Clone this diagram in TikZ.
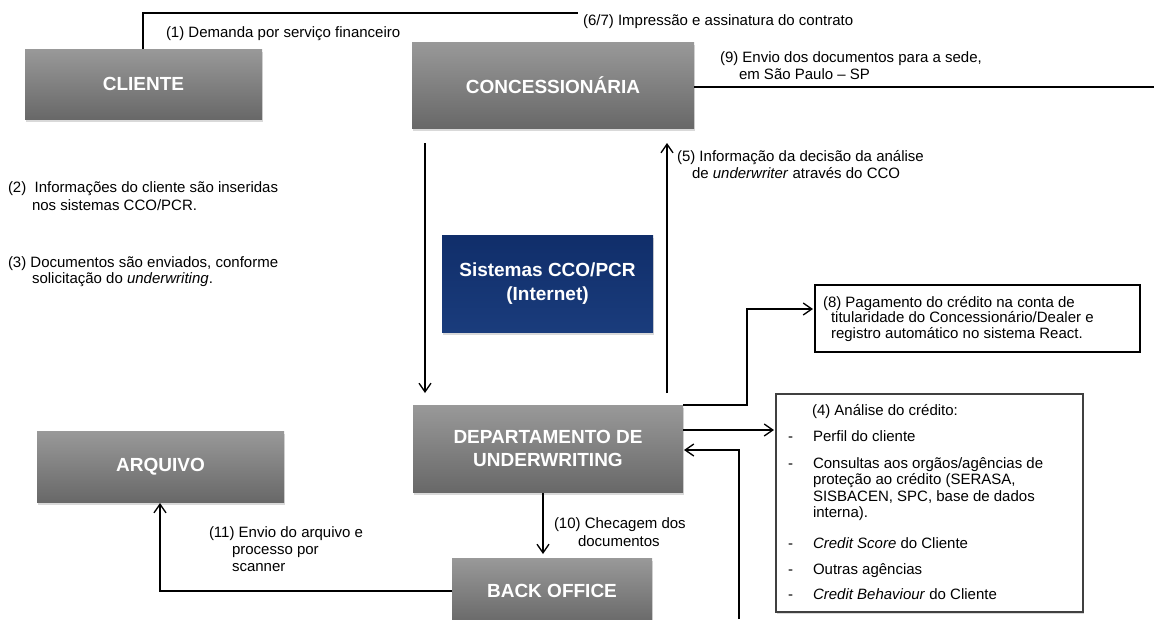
\documentclass[tikz,border=0pt]{standalone}
\usepackage{fontspec}
\setmainfont{Liberation Sans}
\usetikzlibrary{arrows.meta,shadows}
\definecolor{gtop}{RGB}{153,153,153}
\definecolor{gbot}{RGB}{104,104,104}
\definecolor{btop}{RGB}{16,46,106}
\definecolor{bbot}{RGB}{26,60,124}
\definecolor{frame4}{RGB}{64,64,64}
\begin{document}
\begin{tikzpicture}[x=0.75pt,y=-0.75pt,
  graybox/.style={rectangle,inner sep=0pt,outer sep=0pt,draw=none,
    top color=gtop,bottom color=gbot,text=white,align=center,
    font=\fontsize{14.25}{17.5}\selectfont\bfseries,
    drop shadow={shadow xshift=0.8pt,shadow yshift=-2.4pt,opacity=0.3}},
  bluebox/.style={graybox,top color=btop,bottom color=bbot},
  lbl/.style={inner sep=0pt,outer sep=0pt,anchor=base west,
    font=\fontsize{11.25}{13.5}\selectfont},
  conn/.style={line width=1pt,draw=black},
  arr/.style={conn,-{Straight Barb[length=6.5pt,width=9pt,line width=1pt]}},
]
\useasboundingbox (0,0) rectangle (1154,619);
\clip (0,0) rectangle (1154,619);

% boxes
\node[graybox,minimum width=177.75pt,minimum height=52.5pt] (cli) at (143.5,84) {CLIENTE};
\node[graybox,minimum width=211.5pt,minimum height=64.5pt] (conc) at (553,85) {CONCESSIONÁRIA};
\node[bluebox,minimum width=158.25pt,minimum height=72.75pt] (sis) at (547.5,283.5) {Sistemas CCO/PCR\\(Internet)};
\node[graybox,minimum width=202.5pt,minimum height=65.25pt] (dept) at (548,448.5) {DEPARTAMENTO DE\\UNDERWRITING};
\node[graybox,minimum width=185.25pt,minimum height=53.25pt] (arq) at (160.5,466.5) {ARQUIVO};
\node[graybox,minimum width=150pt,minimum height=49.5pt] (back) at (552,591) {BACK OFFICE};
\node[draw=black,line width=1pt,fill=white,minimum width=243.75pt,minimum height=50.25pt,inner sep=0pt] (box8) at (977.5,318.5) {};
\node[draw=frame4,line width=1.2pt,fill=white,minimum width=230.25pt,minimum height=163.5pt,inner sep=0pt,
  drop shadow={shadow xshift=1pt,shadow yshift=-1.8pt,opacity=0.3}] (box4) at (929.5,503) {};

% coordinates for free ends and bends
\coordinate (c1a) at (143,13);
\coordinate (c1b) at (578,13);
\coordinate (c9) at (1154,87);
\coordinate (c3s) at (425,143);
\coordinate (c3e) at (425,393);
\coordinate (c5s) at (667,393);
\coordinate (c5e) at (667,143);
\coordinate (c8s) at (683,405);
\coordinate (c8a) at (747,405);
\coordinate (c8b) at (747,309);
\coordinate (c8e) at (813,309);
\coordinate (c4s) at (683,430);
\coordinate (c4e) at (774,430);
\coordinate (cbs) at (739,619);
\coordinate (cba) at (739,450);
\coordinate (cbe) at (684,450);
\coordinate (c10s) at (543,493);
\coordinate (c10e) at (543,554);
\coordinate (c11s) at (452,591);
\coordinate (c11a) at (160,591);
\coordinate (c11e) at (160,503);

% connectors
\draw[conn] (cli.north -| c1a) -- (c1a) -- (c1b);
\draw[conn] (conc.east |- c9) -- (c9);
\draw[arr] (c3s) -- (c3e);
\draw[arr] (c5s) -- (c5e);
\draw[arr] (c8s) -- (c8a) -- (c8b) -- (c8e);
\draw[arr] (c4s) -- (c4e);
\draw[arr] (cbs) -- (cba) -- (cbe);
\draw[arr] (c10s) -- (c10e);
\draw[arr] (back.west |- c11s) -- (c11a) -- (c11e);

% labels
\node[lbl] (t1) at (166,37) {(1) Demanda por serviço financeiro};
\node[lbl] (t67) at (583,25) {(6/7) Impressão e assinatura do contrato};
\node[lbl] (t9a) at (720,62) {(9) Envio dos documentos para a sede,};
\node[lbl] (t9b) at (739,79) {em São Paulo – SP};
\node[lbl] (t2a) at (8,192) {(2)\ \ Informações do cliente são inseridas};
\node[lbl] (t2b) at (32,210) {nos sistemas CCO/PCR.};
\node[lbl] (t3a) at (8,267) {(3) Documentos são enviados, conforme};
\node[lbl] (t3b) at (32,283) {solicitação do \textit{underwriting}.};
\node[lbl] (t5a) at (677,161) {(5) Informação da decisão da análise};
\node[lbl] (t5b) at (692,178) {de \textit{underwriter} através do CCO};
\node[lbl] (t8a) at (823,307) {(8) Pagamento do crédito na conta de};
\node[lbl] (t8b) at (831,322) {titularidade do Concessionário/Dealer e};
\node[lbl] (t8c) at (831,338) {registro automático no sistema React.};
\node[lbl] (t10a) at (554,528) {(10) Checagem dos};
\node[lbl] (t10b) at (578,546) {documentos};
\node[lbl] (t11a) at (209,537) {(11) Envio do arquivo e};
\node[lbl] (t11b) at (232,554) {processo por};
\node[lbl] (t11c) at (232,571) {scanner};

\node[lbl] (t4h) at (812,415) {(4) Análise do crédito:};
\node[lbl] (d1) at (788,441) {-};
\node[lbl] (t4a) at (813,441) {Perfil do cliente};
\node[lbl] (d2) at (788,468) {-};
\node[lbl] (t4b1) at (813,468) {Consultas aos orgãos/agências de};
\node[lbl] (t4b2) at (813,484.5) {proteção ao crédito (SERASA,};
\node[lbl] (t4b3) at (813,501) {SISBACEN, SPC, base de dados};
\node[lbl] (t4b4) at (813,517.5) {interna).};
\node[lbl] (d3) at (788,548) {-};
\node[lbl] (t4c) at (813,548) {\textit{Credit Score} do Cliente};
\node[lbl] (d4) at (788,574) {-};
\node[lbl] (t4d) at (813,574) {Outras agências};
\node[lbl] (d5) at (788,599) {-};
\node[lbl] (t4e) at (813,599) {\textit{Credit Behaviour} do Cliente};
\end{tikzpicture}
\end{document}
